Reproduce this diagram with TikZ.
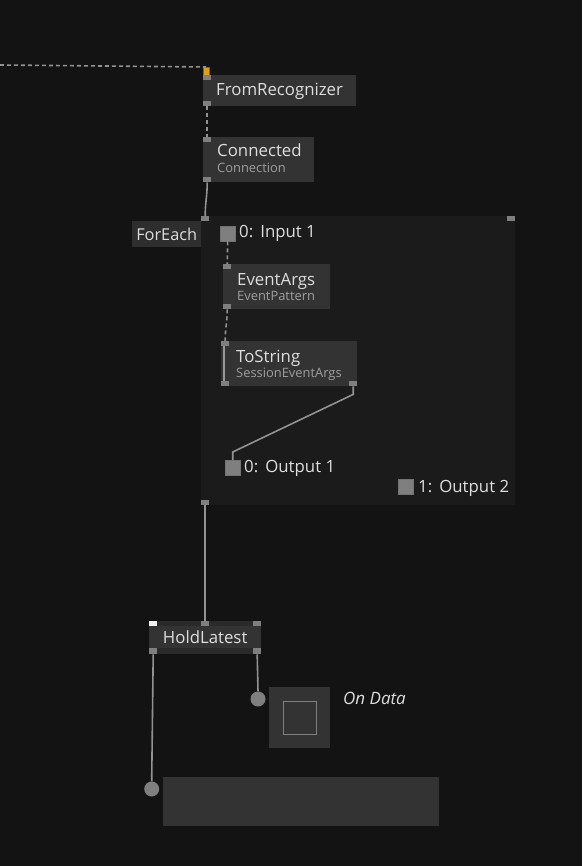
\documentclass[tikz,border=0pt]{standalone}
\usepackage{fontspec}
\setmainfont{Open Sans}
\definecolor{canvasBg}{HTML}{131313}
\definecolor{groupBg}{HTML}{1B1B1B}
\definecolor{opFill}{HTML}{333333}
\definecolor{opStrip}{HTML}{2A2A2A}
\definecolor{labelFill}{HTML}{2E2E2E}
\definecolor{portGray}{HTML}{7F7F7F}
\definecolor{wireGray}{HTML}{929292}
\definecolor{titleText}{HTML}{DEDEDE}
\definecolor{subText}{HTML}{9E9E9E}
\definecolor{srcOrange}{HTML}{E0A010}
\begin{document}
\begin{tikzpicture}[x=1pt,y=-1pt,
    opBox/.style={rectangle,fill=opFill,inner sep=0pt,anchor=north west},
    opPort/.style={rectangle,fill=portGray,inner sep=0pt,minimum width=8pt,minimum height=5pt},
    srcPort/.style={rectangle,fill=srcOrange,draw=srcOrange!60!black,inner sep=0pt,minimum width=6pt,minimum height=8pt,anchor=north west},
    ioPort/.style={rectangle,fill=portGray,draw=black!55,inner sep=0pt,minimum size=15pt,anchor=north west},
    opTitle/.style={anchor=base west,inner sep=0pt,text=titleText,font=\fontsize{16.8}{20}\selectfont},
    opSub/.style={anchor=base west,inner sep=0pt,text=subText,font=\fontsize{12.9}{15}\selectfont},
    groupLabel/.style={rectangle,fill=labelFill,inner sep=0pt,anchor=north west,text=titleText,font=\fontsize{16.3}{19}\selectfont},
    dotPort/.style={circle,fill=portGray,inner sep=0pt,minimum size=15pt},
    wire/.style={draw=wireGray,line width=1.6pt},
    wireDash/.style={wire,dash pattern=on 4pt off 3pt},
]
\fill[canvasBg] (0,0) rectangle (582,866);
\useasboundingbox (0,0) rectangle (582,866);
% === source chain (top) ===
\coordinate (leftEdge) at (0,65);
\node[opBox,minimum width=153pt,minimum height=31pt] (fromRec) at (203,75) {};
\node[srcPort] (srcPin) at (203,67) {};
\node[opPort,anchor=north west] (fromRecIn) at (fromRec.north west) {};
\node[opPort,anchor=south west] (fromRecOut) at (fromRec.south west) {};
\node[opTitle] at ([shift={(13,21)}]fromRec.north west) {FromRecognizer};
\node[opBox,minimum width=111pt,minimum height=45pt] (conn) at (203,137) {};
\node[opPort,anchor=north west] (connIn) at (conn.north west) {};
\node[opPort,anchor=south west] (connOut) at (conn.south west) {};
\node[opTitle] at ([shift={(14,20)}]conn.north west) {Connected};
\node[opSub] at ([shift={(14,36)}]conn.north west) {Connection};
\draw[wireDash] (leftEdge) -- (srcPin.north);
\draw[wireDash] (fromRecOut.south) -- (connIn.north);
% === ForEach group ===
\node[opBox,fill=groupBg,minimum width=314pt,minimum height=289pt] (forEach) at (201,216) {};
\node[opPort,anchor=north west] (forEachIn) at (forEach.north west) {};
\node[opPort,anchor=north east] (forEachAux) at (forEach.north east) {};
\node[opPort,anchor=south west] (forEachOut) at (forEach.south west) {};
\node[groupLabel,minimum width=69pt,minimum height=26pt] (forEachLbl) at (132,221) {ForEach};
\draw[wire] (connOut.south) .. controls +(0,14) and +(0,-14) .. (forEachIn.north);
\node[ioPort] (inOne) at (220,226) {};
\node[opTitle] at (239,238) {0:\hspace{0.42em}Input 1};
\node[opBox,minimum width=107pt,minimum height=45pt] (evArgs) at (223,264) {};
\node[opPort,anchor=north west] (evIn) at (evArgs.north west) {};
\node[opPort,anchor=south west] (evOut) at (evArgs.south west) {};
\node[opTitle] at ([shift={(14,21)}]evArgs.north west) {EventArgs};
\node[opSub] at ([shift={(14,36)}]evArgs.north west) {EventPattern};
\node[opBox,minimum width=136pt,minimum height=45pt] (toStr) at (221,341) {};
\node[opPort,anchor=north west] (tsIn) at (toStr.north west) {};
\node[opPort,anchor=south west] (tsOutL) at (toStr.south west) {};
\node[opPort,anchor=south east] (tsOutR) at (toStr.south east) {};
\node[opTitle] at ([shift={(15,21)}]toStr.north west) {ToString};
\node[opSub] at ([shift={(15,36)}]toStr.north west) {SessionEventArgs};
\node[ioPort] (outOne) at (225,460) {};
\node[opTitle] at (244,472) {0:\hspace{0.42em}Output 1};
\node[ioPort] (outTwo) at (398,479) {};
\node[opTitle] at (418,492) {1:\hspace{0.42em}Output 2};
\draw[wireDash] (inOne.south) -- (evIn.north);
\draw[wireDash] (evOut.south) .. controls +(0,14) and +(0,-14) .. (tsIn.north);
\draw[wire,draw=gray!80] ([xshift=-1pt]tsIn.south) -- ([xshift=-1pt]tsOutL.north);
\draw[wire] (tsOutR.south) -- ++(0,8) -- ([yshift=8pt]outOne.north) -- (outOne.north);
% === HoldLatest (bottom) ===
\node[opBox,minimum width=112pt,minimum height=33pt] (hold) at (149,621) {};
\fill[opStrip] (hold.north west) rectangle ([yshift=-5pt]hold.north east);
\fill[opStrip] ([yshift=6pt]hold.south west) rectangle (hold.south east);
\node[anchor=base,inner sep=0pt,text=titleText,font=\fontsize{16.8}{20}\selectfont] (holdLbl) at ([yshift=-6pt]hold.center) {HoldLatest};
\node[opPort,anchor=north west,fill=white!94!black] (holdIn) at (hold.north west) {};
\node[opPort,anchor=north] (holdMid) at (hold.north) {};
\node[opPort,anchor=north east] (holdAux) at (hold.north east) {};
\node[opPort,anchor=south west,minimum height=6pt] (holdOutL) at (hold.south west) {};
\node[opPort,anchor=south east,minimum height=6pt] (holdOutR) at (hold.south east) {};
\draw[wire] (forEachOut.south) -- (holdMid.north);
\node[dotPort] (dataDot) at (258,699) {};
\node[opBox,minimum width=61pt,minimum height=61pt] (dataBox) at (269,687) {};
\node[rectangle,draw=portGray,line width=1.4pt,inner sep=0pt,minimum size=33pt] (dataCheck) at (dataBox.center) {};
\node[anchor=base west,inner sep=0pt,text=titleText,font=\fontsize{17}{20}\selectfont\itshape] (dataLbl) at (343,704) {On Data};
\node[dotPort] (resDot) at (151.7,789) {};
\node[opBox,minimum width=276pt,minimum height=49pt] (resBox) at (163,777) {};
\draw[wire] (holdOutR.south) -- (dataDot.north);
\draw[wire] (holdOutL.south) -- (resDot.north);
\end{tikzpicture}
\end{document}
